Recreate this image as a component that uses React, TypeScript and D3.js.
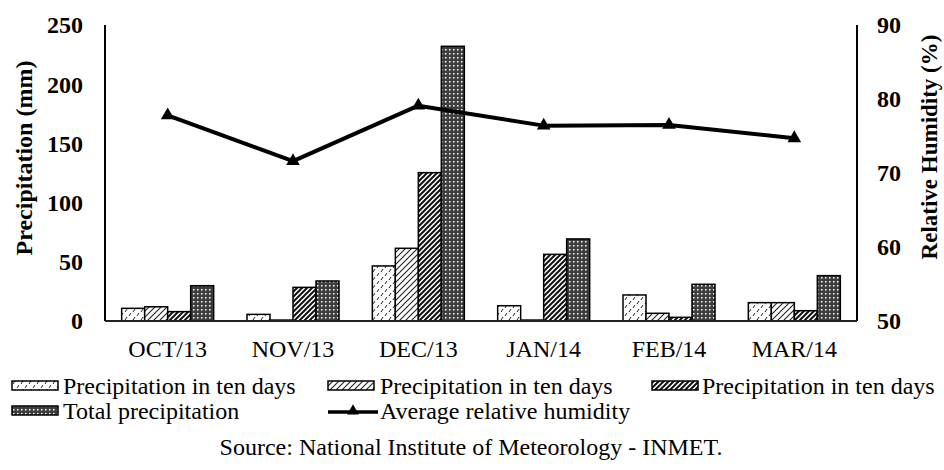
import React from "react";
import * as d3 from "d3";

const categories = ["OCT/13", "NOV/13", "DEC/13", "JAN/14", "FEB/14", "MAR/14"];
const tenDays1 = [10.7, 5.6, 46.5, 12.9, 22, 15.5];
const tenDays2 = [12, 0.8, 61.4, 0.8, 6.5, 15.5];
const tenDays3 = [7.9, 28.4, 125.3, 56.3, 3.1, 8.7];
const totalPrecip = [29.8, 33.8, 232, 69.3, 31, 38.3];
const humidity = [77.8, 71.6, 79.1, 76.4, 76.5, 74.7];
const leftTicks = [0, 50, 100, 150, 200, 250];
const rightTicks = [50, 60, 70, 80, 90];
const seriesNames = [
  "Precipitation in ten days",
  "Precipitation in ten days",
  "Precipitation in ten days",
  "Total precipitation",
];
const lineName = "Average relative humidity";
const sourceText = "Source: National Institute of Meteorology - INMET.";

const W = 944;
const H = 470;
const FONT = "'Liberation Serif', 'Times New Roman', 'DejaVu Serif', serif";
const patternIds = ["pat1", "pat2", "pat3", "pat4"];

export default function App() {
  const left = 105, right = 857, top = 25, bottom = 321;
  const series = [tenDays1, tenDays2, tenDays3, totalPrecip];
  const x0 = d3.scaleBand<string>().domain(categories).range([left, right]).paddingInner(0.266).paddingOuter(0.133);
  const x1 = d3.scaleBand<number>().domain([0, 1, 2, 3]).range([0, x0.bandwidth()]);
  const yL = d3.scaleLinear().domain([0, 250]).range([bottom, top]);
  const yR = d3.scaleLinear().domain([50, 90]).range([bottom, top]);
  const cx = (c: string) => (x0(c) as number) + x0.bandwidth() / 2;
  const line = d3.line<number>().x((_, i) => cx(categories[i])).y((v) => yR(v));
  const tri = d3.symbol().type(d3.symbolTriangle).size(80)() as string;
  const triSmall = d3.symbol().type(d3.symbolTriangle).size(60)() as string;

  return (
    <svg width={W} height={H} style={{ position: "absolute", left: 0, top: 0, background: "#fff", fontFamily: FONT }}>
      <defs>
        <pattern id="pat1" width="8" height="8" patternUnits="userSpaceOnUse">
          <rect width="8" height="8" fill="#fff" />
          <path d="M1,4 L3,1 M5,8 L7,5" stroke="#222" strokeWidth="1" />
        </pattern>
        <pattern id="pat2" width="6" height="6" patternUnits="userSpaceOnUse">
          <rect width="6" height="6" fill="#fff" />
          <path d="M-1,7 L7,-1 M-4,4 L4,-4 M2,10 L10,2" stroke="#222" strokeWidth="1.1" />
        </pattern>
        <pattern id="pat3" width="5" height="5" patternUnits="userSpaceOnUse">
          <rect width="5" height="5" fill="#fff" />
          <path d="M-1,6 L6,-1 M-3.5,3.5 L3.5,-3.5 M1.5,8.5 L8.5,1.5" stroke="#111" strokeWidth="2" />
        </pattern>
        <pattern id="pat4" width="4" height="4" patternUnits="userSpaceOnUse">
          <rect width="4" height="4" fill="#3e3e3e" />
          <rect x="1" y="1" width="1.5" height="1.5" fill="#fff" />
        </pattern>
      </defs>

      {/* bars */}
      {categories.map((c, i) => (
        <g key={c}>
          {series.map((s, k) => (
            <rect
              key={k}
              x={(x0(c) as number) + (x1(k) as number)}
              y={yL(s[i])}
              width={x1.bandwidth()}
              height={bottom - yL(s[i])}
              fill={`url(#${patternIds[k]})`}
              stroke="#000"
              strokeWidth={1.5}
            />
          ))}
        </g>
      ))}

      {/* axes */}
      <line x1={left} x2={left} y1={top} y2={bottom} stroke="#000" strokeWidth={2} />
      <line x1={right} x2={right} y1={top} y2={bottom} stroke="#000" strokeWidth={2} />
      <line x1={left} x2={right} y1={bottom} y2={bottom} stroke="#222" strokeWidth={2} />

      {/* humidity line */}
      <path d={line(humidity) as string} fill="none" stroke="#000" strokeWidth={4} strokeLinejoin="round" />
      {humidity.map((v, i) => (
        <path key={i} d={tri} transform={`translate(${cx(categories[i])},${yR(v)})`} fill="#000" />
      ))}

      {/* left ticks */}
      {leftTicks.map((t) => (
        <text key={t} x={83} y={yL(t)} dy="0.35em" textAnchor="end" fontSize={24} fontWeight="bold">
          {t}
        </text>
      ))}
      {/* right ticks */}
      {rightTicks.map((t) => (
        <text key={t} x={877} y={yR(t)} dy="0.35em" textAnchor="start" fontSize={24} fontWeight="bold">
          {t}
        </text>
      ))}
      {/* x labels */}
      {categories.map((c) => (
        <text key={c} x={cx(c)} y={357} textAnchor="middle" fontSize={24}>
          {c}
        </text>
      ))}

      {/* axis titles */}
      <text transform={`translate(32,158) rotate(-90)`} textAnchor="middle" fontSize={24} fontWeight="bold">
        Precipitation (mm)
      </text>
      <text transform={`translate(937,147) rotate(-90)`} textAnchor="middle" fontSize={23} fontWeight="bold">
        Relative Humidity (%)
      </text>

      {/* legend row 1 */}
      {[0, 1, 2].map((k) => {
        const sx = [12, 328, 652][k];
        const tx = [63, 380, 702][k];
        return (
          <g key={k}>
            <rect x={sx} y={381} width={46} height={9} fill={`url(#${patternIds[k]})`} stroke="#000" strokeWidth={1.5} />
            <text x={tx} y={394} fontSize={24}>
              {seriesNames[k]}
            </text>
          </g>
        );
      })}
      {/* legend row 2 */}
      <rect x={12} y={406} width={46} height={9} fill="url(#pat4)" stroke="#000" strokeWidth={1.5} />
      <text x={63} y={419} fontSize={24}>
        {seriesNames[3]}
      </text>
      <line x1={328} x2={378} y1={412} y2={412} stroke="#000" strokeWidth={3.5} />
      <path d={triSmall} transform="translate(353,411)" fill="#000" />
      <text x={380} y={419} fontSize={24}>
        {lineName}
      </text>

      {/* source */}
      <text x={471} y={455} textAnchor="middle" fontSize={24}>
        {sourceText}
      </text>
    </svg>
  );
}
